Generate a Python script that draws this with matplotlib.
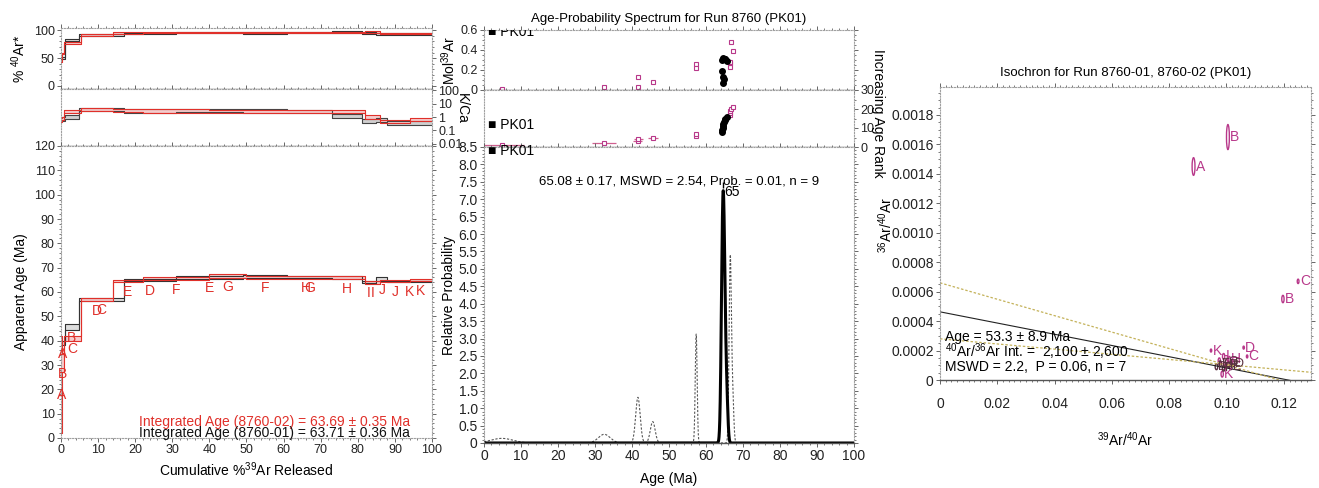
import numpy as np
import matplotlib
matplotlib.use('Agg')
import matplotlib.pyplot as plt
from matplotlib.patches import Ellipse
from matplotlib.ticker import MultipleLocator, NullFormatter, LogLocator

plt.rcParams['font.family'] = ['Liberation Sans', 'DejaVu Sans']
plt.rcParams['font.size'] = 9
plt.rcParams['mathtext.fontset'] = 'custom'
plt.rcParams['mathtext.rm'] = 'Liberation Sans'
plt.rcParams['mathtext.it'] = 'Liberation Sans'
plt.rcParams['mathtext.default'] = 'regular'

# --- step heating, run 8760-01 (black) ---
cum01 = [0, 1.0, 4.8, 17.0, 31.0, 49.0, 61.0, 73.0, 81.0, 85.0, 88.0, 100]
age01 = [39.0, 45.5, 57.0, 64.8, 66.0, 66.3, 66.0, 65.8, 64.0, 65.3, 64.3]
err01 = [0.8, 1.2, 0.7, 0.4, 0.6, 0.7, 0.4, 0.6, 0.5, 0.7, 0.3]
rad01 = [50, 82, 92, 94, 96, 95, 96, 97, 95, 93, 93]
kca01 = [0.7, 1.0, 3.5, 2.8, 3.0, 2.7, 2.5, 1.2, 0.5, 0.6, 0.35]

# --- step heating, run 8760-02 (red) ---
cum02 = [0, 0.3, 0.7, 5.3, 14.0, 22.0, 40.0, 50.0, 82.0, 86.0, 94.0, 100]
age02 = [22.0, 31.0, 41.0, 56.8, 64.5, 65.5, 66.5, 66.0, 64.0, 64.5, 65.0]
err02 = [20.0, 4.0, 1.0, 0.6, 0.4, 0.5, 0.7, 0.5, 0.6, 0.5, 0.3]
rad02 = [45, 58, 77, 92, 95, 96, 96, 96, 97, 94, 94]
kca02 = [0.6, 0.8, 2.5, 3.5, 3.2, 2.8, 2.7, 2.4, 1.0, 0.45, 0.7]
step_letters = list('ABCDEFGHIJK')

# --- single crystal / probability data ---
ex_age = [4.8, 32.5, 41.5, 41.7, 45.6, 57.3, 57.4, 66.4, 66.5, 66.6, 66.7, 67.2]
ex_sig = [3.0, 1.6, 0.6, 0.6, 0.65, 0.25, 0.25, 0.28, 0.28, 0.28, 0.28, 0.3]
ex_mol = [0.007, 0.027, 0.127, 0.027, 0.077, 0.26, 0.217, 0.233, 0.27, 0.28, 0.477, 0.39]
in_age = [64.2, 64.4, 64.5, 64.6, 64.7, 64.8, 65.0, 65.1, 65.6]
in_sig = [0.32, 0.32, 0.32, 0.32, 0.32, 0.32, 0.32, 0.32, 0.32]
in_mol = [0.193, 0.30, 0.133, 0.073, 0.317, 0.107, 0.31, 0.307, 0.293]

# --- isochron data ---
iso_ex_x = [0.0885, 0.1005, 0.1197, 0.1250, 0.1060, 0.1072, 0.0946, 0.0975, 0.0990, 0.1010, 0.0985]
iso_ex_y = [0.00145, 0.00165, 0.00055, 0.00067, 0.00022, 0.00016, 0.00020, 0.00013, 0.00016, 0.00014, 0.00004]
iso_ex_w = [0.0010, 0.0010, 0.0008, 0.0006, 0.0005, 0.0005, 0.0005, 0.0008, 0.0008, 0.0008, 0.0008]
iso_ex_h = [0.00012, 0.00017, 0.00005, 0.00003, 0.00002, 0.00002, 0.00002, 0.00004, 0.00004, 0.00004, 0.00004]
iso_ex_lbl = ['A', 'B', 'B', 'C', 'D', 'C', 'K', 'J', 'I', 'H', 'K']
iso_in_x = [0.0965, 0.0978, 0.0990, 0.1000, 0.1008, 0.1015, 0.1025]
iso_in_y = [0.00009, 0.00011, 0.00008, 0.00012, 0.00010, 0.00009, 0.00011]
iso_in_lbl = ['D', 'E', 'F', 'G', 'F', 'E', 'D']
fit_y0, fit_x0 = 0.000463, 0.1215
env_y0 = [0.00066, 0.00028]
env_pivot = (0.0995, 0.000105)

RED = '#e0302a'
MAG = '#b8388a'
W, H = 1319, 488
fig = plt.figure(figsize=(W / 100, H / 100), dpi=100)


def box(x0, x1, y0, y1):
    return fig.add_axes([x0 / W, 1 - y1 / H, (x1 - x0) / W, (y1 - y0) / H])


def style(ax, solid_bottom=False):
    for s in ax.spines.values():
        s.set_color('#a0a0a0')
        s.set_linestyle((0, (1, 1.5)))
        s.set_linewidth(0.8)
    if solid_bottom:
        ax.spines['bottom'].set_linestyle('-')
        ax.spines['bottom'].set_color('#555555')
        ax.spines['bottom'].set_linewidth(1.0)
    ax.tick_params(which='both', direction='out', colors='#666666', labelcolor='#222222',
                   top=True, right=True, labelsize=9)
    ax.tick_params(which='major', length=3, width=0.7, pad=1.5)
    ax.tick_params(which='minor', length=1.5, width=0.6)


def spectrum(ax, cum, val, err, color, fill, log=False):
    val = np.asarray(val, float)
    err = np.asarray(err, float)
    if log:
        hi, lo = val * err, val / err
    else:
        hi, lo = val + err, val - err
    hi = np.r_[hi, hi[-1]]
    lo = np.r_[lo, lo[-1]]
    ax.fill_between(cum, lo, hi, step='post', color=fill, lw=0)
    ax.step(cum, hi, where='post', color=color, lw=0.8)
    ax.step(cum, lo, where='post', color=color, lw=0.8)


# ================= left panel =================
ax_rad = box(61, 432, 28, 88.7)
ax_kca = box(61, 432, 88.7, 146)
ax_age = box(61, 432, 146, 438)

spectrum(ax_rad, cum01, rad01, [1.5] * len(rad01), '#333333', '#dddddd')
spectrum(ax_rad, cum02, rad02, [1.5] * len(rad02), RED, '#f6cccc')
ax_rad.set_ylim(-5, 104)
ax_rad.set_yticks([0, 50, 100])
ax_rad.set_ylabel('% $^{40}$Ar*', fontsize=10, labelpad=4)

spectrum(ax_kca, cum01, kca01, [1.35] * len(kca01), '#444444', '#d0d0d0', log=True)
spectrum(ax_kca, cum02, kca02, [1.3] * len(kca02), RED, '#f6cccc', log=True)
ax_kca.set_yscale('log')
ax_kca.set_ylim(10 ** -2.15, 10 ** 2.1)
ax_kca.yaxis.tick_right()
ax_kca.set_yticks([0.01, 0.1, 1, 10, 100])
ax_kca.set_yticklabels(['0.01', '0.1', '1', '10', '100'])
ax_kca.yaxis.set_minor_locator(LogLocator(subs=np.arange(2, 10)))
ax_kca.yaxis.set_minor_formatter(NullFormatter())

spectrum(ax_age, cum01, age01, err01, '#333333', '#dddddd')
spectrum(ax_age, cum02, age02, err02, RED, '#f6cccc')
for cum, age in ((cum01, age01), (cum02, age02)):
    mids = (np.asarray(cum[:-1]) + np.asarray(cum[1:])) / 2
    for lt, xm, a in zip(step_letters, mids, age):
        ax_age.text(xm, a - 4.5, lt, color=RED, fontsize=10, ha='center', va='center')
ax_age.set_ylim(0, 120)
ax_age.set_yticks(np.arange(0, 121, 10))
ax_age.set_ylabel('Apparent Age (Ma)', fontsize=10, labelpad=4)
ax_age.set_xlabel('Cumulative %$^{39}$Ar Released', fontsize=10, labelpad=3)
ax_age.text(0.94, 0.054, 'Integrated Age (8760-02) = 63.69 \u00b1 0.35 Ma', color=RED,
            fontsize=10, ha='right', va='center', transform=ax_age.transAxes)
ax_age.text(0.94, 0.018, 'Integrated Age (8760-01) = 63.71 \u00b1 0.36 Ma', color='#111111',
            fontsize=10, ha='right', va='center', transform=ax_age.transAxes)

for ax in (ax_rad, ax_kca, ax_age):
    ax.set_xlim(0, 100)
    ax.xaxis.set_major_locator(MultipleLocator(10))
    ax.xaxis.set_minor_locator(MultipleLocator(2))
for ax in (ax_rad, ax_age):
    ax.yaxis.set_minor_locator(MultipleLocator(2 if ax is ax_age else 10))
style(ax_rad, True)
style(ax_kca, True)
style(ax_age)
ax_rad.tick_params(labelbottom=False)
ax_kca.tick_params(labelbottom=False, labelleft=False, labelright=True)
ax_age.tick_params(labelright=False)

# ================= middle panel =================
ax_mol = box(484, 854, 30, 90)
ax_rank = box(484, 854, 90, 147)
ax_prob = box(484, 854, 147, 443)

ax_mol.plot(ex_age, ex_mol, 's', ms=3.5, mfc='white', mec=MAG, mew=0.8)
ax_mol.plot(in_age, in_mol, 'o', ms=4, color='black')
ax_mol.set_ylim(0, 0.6)
ax_mol.set_yticks([0, 0.2, 0.4, 0.6])
ax_mol.set_yticklabels(['0', '0.2', '0.4', '0.6'])
ax_mol.set_title('Age-Probability Spectrum for Run 8760 (PK01)', fontsize=9.5, pad=6)
ax_mol.set_ylabel('Mol$^{39}$Ar', fontsize=10, labelpad=2)
ax_mol.text(0.012, 0.975, '\u25a0 PK01', fontsize=10, va='center', transform=ax_mol.transAxes,
            clip_on=True)

# rank of each age among all grains
all_age = np.r_[ex_age, in_age]
rank = np.argsort(np.argsort(all_age)) + 1
n_ex = len(ex_age)
ax_rank.errorbar(ex_age, rank[:n_ex], xerr=2 * np.asarray(ex_sig), fmt='s', ms=3.5, mfc='white',
                 mec=MAG, mew=0.8, ecolor='#d06090', elinewidth=0.9, capsize=0)
ax_rank.errorbar(in_age, rank[n_ex:], xerr=2 * np.asarray(in_sig), fmt='o', ms=4, color='black',
                 ecolor='#333333', elinewidth=0.8, capsize=0)
ax_rank.set_ylim(0, 30)
ax_rank.yaxis.tick_right()
ax_rank.set_yticks([0, 10, 20, 30])
ax_rank.text(-0.06, 0.68, 'K/Ca', rotation=270, fontsize=10, ha='center', va='center',
             transform=ax_rank.transAxes)
ax_rank.text(0.012, 0.39, '\u25a0 PK01', fontsize=10, va='center', transform=ax_rank.transAxes)

xs = np.linspace(0, 100, 5001)


def prob(ages, sigs):
    tot = np.zeros_like(xs)
    for a, s in zip(ages, sigs):
        tot += np.exp(-0.5 * ((xs - a) / s) ** 2) / (s * np.sqrt(2 * np.pi))
    return tot


p_ex = prob(ex_age, ex_sig)
p_in = prob(in_age, in_sig)
ax_prob.plot(xs, p_ex, color='#555555', lw=0.8, ls=(0, (2, 1.5)))
ax_prob.plot(xs, p_in, color='black', lw=2.2)
ipk = np.argmax(p_in)
ax_prob.plot(xs[ipk], p_in[ipk] + 0.15, marker='|', ms=4, color='black')
ax_prob.text(xs[ipk] + 0.3, p_in[ipk] - 0.05, '65', fontsize=10, ha='left', va='center')
ax_prob.text(0.527, 0.885, '65.08 \u00b1 0.17, MSWD = 2.54, Prob. = 0.01, n = 9', fontsize=9.5,
             ha='center', va='center', transform=ax_prob.transAxes)
ax_prob.text(0.012, 0.985, '\u25a0 PK01', fontsize=10, va='center', transform=ax_prob.transAxes)
ax_prob.set_ylim(0, 8.5)
yt = np.arange(0, 8.51, 0.5)
ax_prob.set_yticks(yt)
ax_prob.set_yticklabels(['0' if v == 0 else '%.1f' % v for v in yt])
ax_prob.yaxis.set_minor_locator(MultipleLocator(0.1))
ax_prob.set_ylabel('Relative Probability', fontsize=10, labelpad=2)
ax_prob.set_xlabel('Age (Ma)', fontsize=10, labelpad=6)

for ax in (ax_mol, ax_rank, ax_prob):
    ax.set_xlim(0, 100)
    ax.xaxis.set_major_locator(MultipleLocator(10))
    ax.xaxis.set_minor_locator(MultipleLocator(2))
ax_mol.yaxis.set_minor_locator(MultipleLocator(0.05))
ax_rank.yaxis.set_minor_locator(MultipleLocator(5))
style(ax_mol, True)
style(ax_rank, True)
style(ax_prob, True)
ax_mol.tick_params(labelbottom=False)
ax_rank.tick_params(labelbottom=False, labelleft=False, labelright=True)
ax_prob.tick_params(labelsize=10)

fig.text(878 / W, 1 - 113 / H, 'Increasing Age Rank', rotation=270, fontsize=10,
         ha='center', va='center')

# ================= isochron =================
ax_iso = box(940, 1311, 87, 380)
for x, y, w, h, lt in zip(iso_ex_x, iso_ex_y, iso_ex_w, iso_ex_h, iso_ex_lbl):
    ax_iso.add_patch(Ellipse((x, y), w, h, fill=False, ec=MAG, lw=1.0))
    ax_iso.text(x + w / 2 + 0.0003, y, lt, color=MAG, fontsize=10, va='center')
for x, y, lt in zip(iso_in_x, iso_in_y, iso_in_lbl):
    ax_iso.add_patch(Ellipse((x, y), 0.0009, 0.00004, fill=False, ec='#5a3040', lw=1.0))
    ax_iso.text(x + 0.0006, y, lt, color='#5a3040', fontsize=9, va='center')

xl = np.array([0, 0.1295])
ax_iso.plot(xl, fit_y0 - fit_y0 / fit_x0 * xl, color='#222222', lw=0.8)
for y0 in env_y0:
    slope = (env_pivot[1] - y0) / env_pivot[0]
    ax_iso.plot(xl, y0 + slope * xl, color='#c4b25a', lw=0.9, ls=(0, (2, 1.5)))

ax_iso.text(0.0017, 0.000292, 'Age = 53.3 \u00b1 8.9 Ma', fontsize=10, va='center')
ax_iso.text(0.0017, 0.000190, '$^{40}$Ar/$^{36}$Ar Int. =  2,100 \u00b1 2,600', fontsize=10,
            va='center')
ax_iso.text(0.0017, 0.000088, 'MSWD = 2.2,  P = 0.06, n = 7', fontsize=10, va='center')

ax_iso.set_xlim(0, 0.1295)
ax_iso.set_ylim(0, 0.00199)
xt = np.arange(0, 0.121, 0.02)
ax_iso.set_xticks(xt)
ax_iso.set_xticklabels(['0' if v == 0 else '%.2f' % v for v in xt])
ax_iso.xaxis.set_minor_locator(MultipleLocator(0.002))
ytk = np.arange(0, 0.00181, 0.0002)
ax_iso.set_yticks(ytk)
ax_iso.set_yticklabels(['0' if v == 0 else '%.4f' % v for v in ytk])
ax_iso.yaxis.set_minor_locator(MultipleLocator(0.00005))
ax_iso.set_title('Isochron for Run 8760-01, 8760-02 (PK01)', fontsize=9.5, pad=8)
ax_iso.set_xlabel('$^{39}$Ar/$^{40}$Ar', fontsize=10, labelpad=14)
style(ax_iso, True)
ax_iso.tick_params(axis='x', which='major', pad=9, labelsize=10)
ax_iso.tick_params(axis='y', labelsize=10)
fig.text(886 / W, 1 - 225 / H, '$^{36}$Ar/$^{40}$Ar', rotation=90, fontsize=10,
         ha='center', va='center')

fig.savefig('out.png', dpi=100)
